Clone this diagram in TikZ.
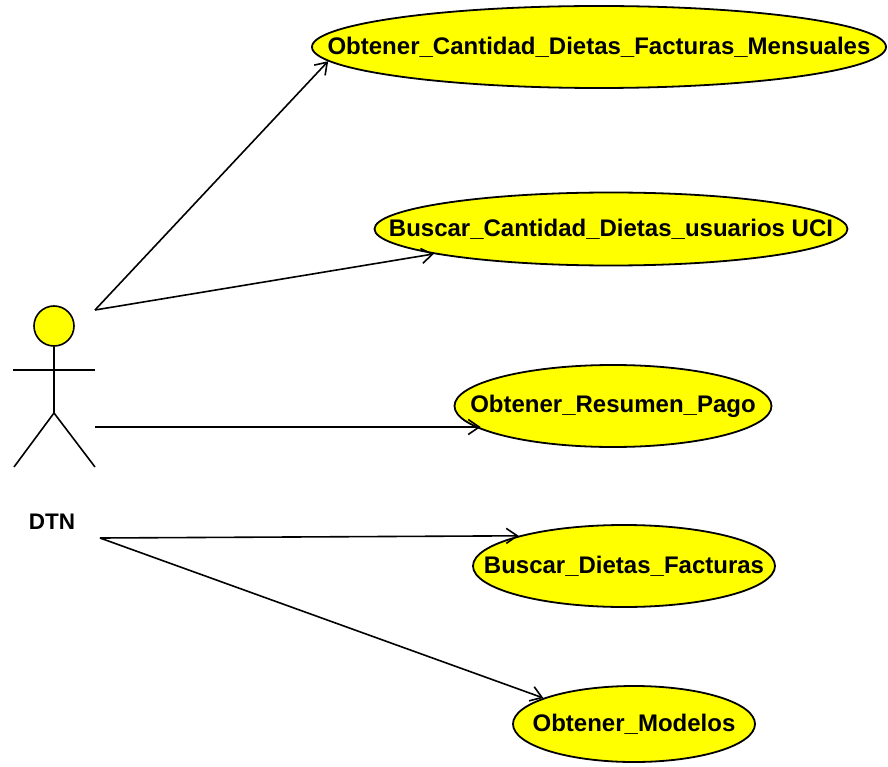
\documentclass[tikz,border=0pt]{standalone}
\usepackage{fontspec}
\setmainfont{Liberation Sans}
\usetikzlibrary{shapes.geometric,arrows.meta}
\definecolor{ucyellow}{RGB}{255,255,0}
\newcommand{\uctext}[1]{\makebox[0pt]{#1}}
\begin{document}
\begin{tikzpicture}[x=1pt,y=-1pt,
  usecase/.style={ellipse,draw=black,line width=1.8pt,fill=ucyellow,inner sep=0pt,
    font=\fontsize{24}{28}\selectfont\bfseries},
  assoc/.style={line width=1.6pt,-{Straight Barb[length=11pt,width=15pt,line width=1.6pt]}},
  stick/.style={line width=1.6pt}]
\useasboundingbox (0,0) rectangle (888,767);
% use cases
\node[usecase,minimum width=574pt,minimum height=82pt] (e1) at (599,47) {\uctext{Obtener\_Cantidad\_Dietas\_Facturas\_Mensuales}};
\node[usecase,minimum width=473pt,minimum height=73pt] (e2) at (611,229) {\uctext{Buscar\_Cantidad\_Dietas\_usuarios UCI}};
\node[usecase,minimum width=317pt,minimum height=82pt] (e3) at (613,406) {\uctext{Obtener\_Resumen\_Pago}};
\node[usecase,minimum width=302pt,minimum height=82pt] (e4) at (624,566) {\uctext{Buscar\_Dietas\_Facturas}};
\node[usecase,minimum width=242pt,minimum height=76pt] (e5) at (634,724) {\uctext{Obtener\_Modelos}};
% actor
\node[circle,draw=black,line width=1.6pt,fill=ucyellow,minimum size=40pt,inner sep=0pt] (head) at (54,326) {};
\coordinate (hip) at (54,413);
\coordinate (armL) at (13,370);
\coordinate (armR) at (95,370);
\coordinate (footL) at (14,467);
\coordinate (footR) at (95,467);
\draw[stick] (head.south) -- (hip);
\draw[stick] (armL) -- (armR);
\draw[stick] (footL) -- (hip) -- (footR);
\node[font=\fontsize{22.5}{26}\selectfont\bfseries] (dtn) at (52,522) {DTN};
% connector origins
\coordinate (a12) at (95,310);
\coordinate (a3) at (95,427);
\coordinate (a45) at (100,538);
% connectors
\draw[assoc] (a12) -- (e1.183.3);
\draw[assoc] (a12) -- (e2.188);
\draw[assoc] (a3) -- (a3 -| e3.190);
\draw[assoc] (a45) -- (e4.164.6);
\draw[assoc] (a45) -- (e5.164);
\end{tikzpicture}
\end{document}
